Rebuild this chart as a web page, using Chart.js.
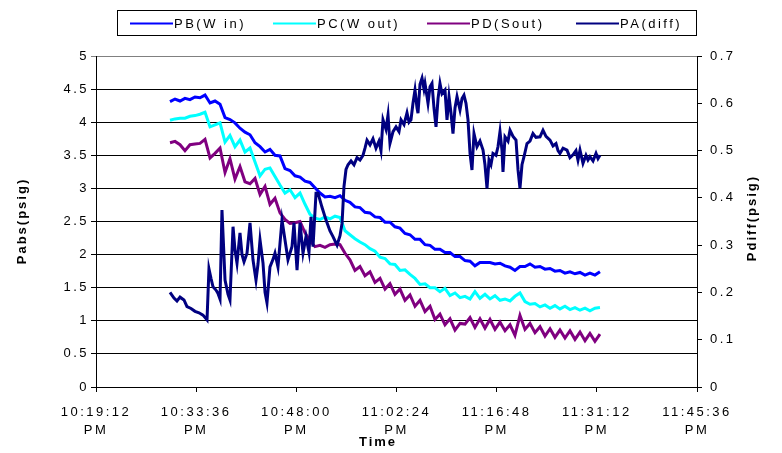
<!DOCTYPE html>
<html><head><meta charset="utf-8">
<script src="https://cdn.jsdelivr.net/npm/chart.js@4"></script>
<style>html,body{margin:0;padding:0;background:#fff}</style>
</head><body>
<canvas id="c" width="782" height="453" style="display:block"></canvas>
<script>
// ---- data (time in minutes after 10:00 PM) ----
const seriesNames = ["PB(W in)", "PC(W out)", "PD(Sout)", "PA(diff)"];
const seriesColors = ["#0000FF", "#00FFFF", "#800080", "#000080"];
const xTitle = "Time";
const yLeftTitle = "Pabs(psig)";
const yRightTitle = "Pdiff(psig)";

const tAbs = [29.84,30.56,31.28,31.99,32.71,33.43,34.15,34.87,35.59,36.31,
  37.03,37.75,38.46,39.18,39.90,40.62,41.34,42.06,42.78,43.50,
  44.21,44.93,45.65,46.37,47.09,47.81,48.53,49.25,49.96,50.68,
  51.40,52.12,52.84,53.56,54.28,55.00,55.71,56.43,57.15,57.87,
  58.59,59.31,60.03,60.75,61.46,62.18,62.90,63.62,64.34,65.06,
  65.78,66.50,67.22,67.93,68.65,69.37,70.09,70.81,71.53,72.25,
  72.97,73.68,74.40,75.12,75.84,76.56,77.28,78.00,78.72,79.43,
  80.15,80.87,81.59,82.31,83.03,83.75,84.47,85.18,85.90,86.62,
  87.34,88.06,88.78,89.50,90.21,90.93,91.65];

const pb = [4.31,4.35,4.32,4.36,4.34,4.38,4.37,4.41,4.29,4.32,
  4.27,4.07,4.04,3.99,3.91,3.85,3.81,3.69,3.63,3.55,
  3.59,3.50,3.49,3.30,3.27,3.19,3.17,3.11,3.09,3.01,
  2.93,2.87,2.88,2.86,2.89,2.82,2.79,2.72,2.71,2.64,
  2.63,2.57,2.56,2.49,2.49,2.42,2.40,2.32,2.30,2.23,
  2.23,2.15,2.14,2.08,2.08,2.03,2.03,1.97,1.97,1.91,
  1.90,1.83,1.88,1.88,1.88,1.86,1.87,1.83,1.81,1.76,
  1.82,1.82,1.86,1.81,1.82,1.78,1.79,1.75,1.76,1.72,
  1.74,1.71,1.73,1.69,1.72,1.69,1.74];

const pc = [4.03,4.05,4.06,4.06,4.09,4.10,4.12,4.15,3.93,3.96,
  3.99,3.70,3.80,3.63,3.73,3.55,3.61,3.40,3.19,3.29,
  3.31,3.18,3.05,2.93,2.98,2.86,2.93,2.76,2.61,2.55,
  2.53,2.57,2.54,2.58,2.56,2.36,2.30,2.24,2.19,2.15,
  2.09,2.05,1.96,1.94,1.86,1.85,1.76,1.77,1.70,1.64,
  1.55,1.56,1.50,1.50,1.44,1.49,1.38,1.42,1.35,1.37,
  1.33,1.44,1.34,1.40,1.33,1.38,1.31,1.33,1.30,1.37,
  1.42,1.29,1.25,1.26,1.21,1.24,1.19,1.23,1.18,1.22,
  1.17,1.20,1.16,1.19,1.15,1.19,1.20];

const pd = [3.69,3.71,3.66,3.57,3.66,3.67,3.68,3.74,3.46,3.53,
  3.61,3.24,3.45,3.14,3.33,3.10,3.07,3.15,2.91,3.03,
  2.76,2.85,2.63,2.53,2.47,2.48,2.50,2.33,2.21,2.12,
  2.14,2.11,2.15,2.16,2.15,2.02,1.92,1.76,1.82,1.68,
  1.74,1.58,1.64,1.48,1.56,1.40,1.48,1.31,1.39,1.22,
  1.31,1.14,1.22,1.02,1.10,0.94,1.03,0.86,0.96,0.95,
  1.05,0.90,1.03,0.89,1.02,0.87,0.98,0.85,0.94,0.78,
  1.08,0.87,0.96,0.82,0.91,0.77,0.88,0.75,0.86,0.74,
  0.85,0.72,0.83,0.70,0.81,0.69,0.80];

const tDiff = [29.84,30.41,30.84,31.28,31.85,32.28,32.86,33.43,34.01,34.58,
  35.16,35.44,35.73,36.02,36.45,36.74,37.03,37.31,37.75,38.18,
  38.46,38.90,39.18,39.47,39.90,40.19,40.48,40.91,41.34,41.77,
  42.20,42.49,42.78,43.21,43.50,43.78,44.21,44.65,44.93,45.36,
  45.94,46.37,46.80,47.38,47.66,48.10,48.53,48.96,49.39,49.82,
  50.11,50.40,50.83,51.12,51.69,52.27,52.84,53.27,53.85,54.28,
  54.57,54.85,55.14,55.43,55.86,56.29,56.72,57.15,57.58,57.87,
  58.16,58.59,59.02,59.45,59.88,60.17,60.46,60.89,61.18,61.46,
  61.90,62.33,62.76,63.05,63.48,63.91,64.20,64.48,64.77,65.06,
  65.35,65.49,65.78,66.07,66.35,66.50,66.78,66.93,67.22,67.50,
  67.79,68.08,68.37,68.65,68.94,69.37,69.66,69.95,70.23,70.52,
  70.81,71.10,71.53,71.82,72.10,72.39,72.68,72.97,73.25,73.54,
  73.97,74.40,74.84,75.12,75.41,75.70,75.98,76.27,76.70,76.99,
  77.28,77.57,77.71,78.00,78.43,78.72,79.15,79.58,79.87,80.15,
  80.44,80.73,81.16,81.59,82.02,82.45,83.03,83.46,83.89,84.47,
  84.90,85.33,85.62,85.90,86.34,86.91,87.34,87.77,88.20,88.49,
  88.78,89.21,89.64,89.93,90.21,90.65,91.08,91.37,91.65];

const pa = [0.200,0.188,0.182,0.190,0.184,0.170,0.166,0.160,0.157,0.152,
  0.142,0.250,0.230,0.212,0.205,0.198,0.186,0.374,0.226,0.196,
  0.184,0.339,0.290,0.262,0.326,0.280,0.265,0.283,0.347,0.269,
  0.226,0.260,0.311,0.262,0.200,0.178,0.254,0.270,0.283,0.254,
  0.353,0.311,0.269,0.297,0.347,0.247,0.347,0.283,0.318,0.285,
  0.360,0.297,0.410,0.410,0.380,0.353,0.330,0.318,0.300,0.320,
  0.346,0.424,0.460,0.470,0.478,0.470,0.485,0.480,0.490,0.505,
  0.522,0.512,0.525,0.505,0.520,0.500,0.565,0.545,0.575,0.515,
  0.540,0.550,0.540,0.565,0.555,0.580,0.560,0.565,0.600,0.628,
  0.590,0.579,0.640,0.653,0.630,0.642,0.615,0.600,0.635,0.642,
  0.590,0.550,0.610,0.642,0.620,0.628,0.565,0.614,0.580,0.536,
  0.590,0.614,0.586,0.610,0.617,0.600,0.565,0.494,0.459,0.536,
  0.508,0.520,0.501,0.470,0.420,0.480,0.470,0.494,0.490,0.508,
  0.540,0.500,0.455,0.529,0.520,0.543,0.530,0.522,0.459,0.420,
  0.470,0.487,0.515,0.520,0.536,0.528,0.529,0.543,0.530,0.522,
  0.510,0.515,0.500,0.494,0.505,0.501,0.485,0.491,0.500,0.480,
  0.501,0.473,0.490,0.480,0.487,0.478,0.494,0.483,0.490];

const xTickValues = [19.2, 33.6, 48.0, 62.4, 76.8, 91.2, 105.6];
const xTickLabels = [["10:19:12","PM"],["10:33:36","PM"],["10:48:00","PM"],["11:02:24","PM"],["11:16:48","PM"],["11:31:12","PM"],["11:45:36","PM"]];
const yLeftTicks = [0, 0.5, 1, 1.5, 2, 2.5, 3, 3.5, 4, 4.5, 5];
const yRightTicks = [0, 0.1, 0.2, 0.3, 0.4, 0.5, 0.6, 0.7];

// ---- chart ----
const FONT = '"Liberation Sans", Arial, sans-serif';
const SPACING = '2.5px';

const excelLook = {
  id: 'excelLook',
  beforeUpdate(chart) { chart.ctx.letterSpacing = SPACING; },
  beforeDraw(chart) {
    const c = chart.ctx;
    c.letterSpacing = SPACING;
    c.save(); c.fillStyle = '#fff'; c.fillRect(0, 0, chart.width, chart.height); c.restore();
  },
  afterDraw(chart) {
    const c = chart.ctx;
    c.save();
    // legend box
    c.strokeStyle = '#000'; c.lineWidth = 1;
    c.strokeRect(117.5, 10.5, 579, 25);
    const lx = [130, 273, 427, 576];
    c.font = '13px ' + FONT; c.letterSpacing = SPACING;
    c.textAlign = 'left'; c.textBaseline = 'middle';
    chart.data.datasets.forEach((ds, i) => {
      c.strokeStyle = ds.borderColor; c.lineWidth = 2;
      c.beginPath(); c.moveTo(lx[i], 23.5); c.lineTo(lx[i] + 43, 23.5); c.stroke();
      c.fillStyle = '#000';
      c.fillText(ds.label, lx[i] + 44, 24);
    });
    // axis titles
    c.font = 'bold 13px ' + FONT; c.letterSpacing = '2px';
    c.textAlign = 'center'; c.fillStyle = '#000';
    c.fillText(xTitle, 378, 442);
    c.save(); c.translate(22, 221); c.rotate(-Math.PI / 2); c.fillText(yLeftTitle, 0, 0); c.restore();
    c.save(); c.translate(752, 218); c.rotate(-Math.PI / 2); c.fillText(yRightTitle, 0, 0); c.restore();
    c.restore();
  }
};

const common = { borderWidth: 3, pointRadius: 0, tension: 0, fill: false };
const toPts = (ts, vs) => ts.map((t, i) => ({ x: t, y: vs[i] }));

new Chart(document.getElementById('c'), {
  type: 'line',
  data: {
    datasets: [
      Object.assign({ label: seriesNames[0], data: toPts(tAbs, pb), borderColor: seriesColors[0], yAxisID: 'y', order: 3 }, common),
      Object.assign({ label: seriesNames[1], data: toPts(tAbs, pc), borderColor: seriesColors[1], yAxisID: 'y', order: 2 }, common),
      Object.assign({ label: seriesNames[2], data: toPts(tAbs, pd), borderColor: seriesColors[2], yAxisID: 'y', order: 1 }, common),
      Object.assign({ label: seriesNames[3], data: toPts(tDiff, pa), borderColor: seriesColors[3], yAxisID: 'y2', order: 0 }, common)
    ]
  },
  options: {
    responsive: false, animation: false,
    layout: { padding: { top: 56, left: 0, right: 0, bottom: 0 } },
    plugins: { legend: { display: false }, tooltip: { enabled: false }, title: { display: false } },
    scales: {
      x: {
        type: 'linear', position: 'bottom', min: 19.2, max: 105.6,
        afterBuildTicks: s => { s.ticks = xTickValues.map(v => ({ value: v })); },
        afterFit: s => { s.height = 66; },
        ticks: { autoSkip: false, maxRotation: 0, minRotation: 0, padding: 12, color: '#000',
          font: { family: FONT, size: 13, lineHeight: 1.35 },
          callback: (v, i) => xTickLabels[i] },
        grid: { drawOnChartArea: false, color: '#000', tickLength: 5 },
        border: { color: '#000', width: 1 }
      },
      y: {
        position: 'left', min: 0, max: 5,
        afterBuildTicks: s => { s.ticks = yLeftTicks.map(v => ({ value: v })); },
        afterFit: s => { s.width = 96; },
        ticks: { padding: 2, color: '#000', font: { family: FONT, size: 13 }, callback: v => String(v) },
        grid: { color: ctx => (ctx.tick && ctx.tick.value === 5) ? '#808080' : '#000', tickLength: 5 },
        border: { color: '#000', width: 1 }
      },
      y2: {
        position: 'right', min: 0, max: 0.7,
        afterBuildTicks: s => { s.ticks = yRightTicks.map(v => ({ value: v })); },
        afterFit: s => { s.width = 85; },
        ticks: { padding: 8, color: '#000', font: { family: FONT, size: 13 }, callback: v => String(v) },
        grid: { drawOnChartArea: false, color: '#000', tickLength: 5 },
        border: { color: '#000', width: 1 }
      }
    }
  },
  plugins: [excelLook]
});
</script>
</body></html>
